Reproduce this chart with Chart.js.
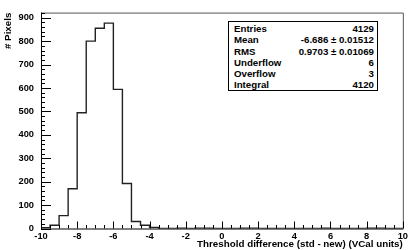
<!DOCTYPE html>
<html>
<head>
<meta charset="utf-8">
<script src="https://cdn.jsdelivr.net/npm/chart.js@4/dist/chart.umd.min.js"></script>
<style>
  html, body { margin: 0; padding: 0; background: #fff; }
  #wrap { position: relative; width: 410px; height: 250px; }
  #stats {
    position: absolute; left: 228px; top: 21px; width: 150px; height: 70px;
    border: 1px solid #000; background: #fff; box-sizing: border-box;
    font-family: "Liberation Sans", Arial, sans-serif; font-weight: bold; font-size: 9.7px;
    padding: 1px 3px 0 5px; color: #000;
  }
  #stats .row { display: flex; justify-content: space-between; height: 11.3px; line-height: 11.3px; white-space: nowrap; }
</style>
</head>
<body>
<div id="wrap">
  <canvas id="c" width="410" height="250"></canvas>
  <div id="stats"></div>
</div>
<script>
// ---- data ----
const binLows = [-10, -9.5, -9, -8.5, -8, -7.5, -7, -6.5, -6, -5.5, -5, -4.5, -4, -3.5, -3, -2.5, -2, -1.5, -1, -0.5,
                 0, 0.5, 1, 1.5, 2, 2.5, 3, 3.5, 4, 4.5, 5, 5.5, 6, 6.5, 7, 7.5, 8, 8.5, 9, 9.5];
const counts  = [3, 14, 55, 170, 494, 800, 855, 877, 594, 192, 30, 14, 5, 0, 0, 1, 0, 1, 1, 0,
                 0, 0, 1, 1, 0, 0, 0, 0, 0, 0, 0, 1, 0, 0, 0, 0, 1, 1, 0, 0];
const xRange = [-10, 10];
const yMax = 922;
const yTickValues = [0, 100, 200, 300, 400, 500, 600, 700, 800, 900];
const statLabels = ["Entries", "Mean", "RMS", "Underflow", "Overflow", "Integral"];
const statValues = ["4129", "-6.686 \u00b1 0.01512", "0.9703 \u00b1 0.01069", "6", "3", "4120"];
const xTitle = "Threshold difference (std - new) (VCal units)";
const yTitle = "# Pixels";

// stats box
const sb = document.getElementById('stats');
statLabels.forEach((l, i) => {
  const r = document.createElement('div'); r.className = 'row';
  const a = document.createElement('span'); a.textContent = l;
  const b = document.createElement('span'); b.textContent = statValues[i];
  r.appendChild(a); r.appendChild(b); sb.appendChild(r);
});

// histogram outline points
const pts = [{x: xRange[0], y: 0}];
binLows.forEach((x, i) => pts.push({x: x, y: counts[i]}));
pts.push({x: xRange[1], y: 0});

const FONT = "'Liberation Sans', Arial, sans-serif";

const frameTicks = {
  id: 'frameTicks',
  afterDatasetsDraw(chart) {
    const {ctx, chartArea: a, scales: {x, y}} = chart;
    ctx.save();
    ctx.lineWidth = 1;
    ctx.strokeStyle = '#555';
    ctx.beginPath();
    ctx.moveTo(a.left, a.top + 0.5); ctx.lineTo(a.right + 0.5, a.top + 0.5); ctx.lineTo(a.right + 0.5, a.bottom);
    ctx.stroke();
    ctx.strokeStyle = '#000';
    ctx.beginPath();
    ctx.moveTo(a.left + 0.5, a.top); ctx.lineTo(a.left + 0.5, a.bottom + 0.5); ctx.lineTo(a.right + 0.5, a.bottom + 0.5);
    ctx.stroke();
    ctx.beginPath();
    for (let v = xRange[0]; v <= xRange[1] + 1e-9; v += 0.5) {
      const px = Math.round(x.getPixelForValue(v)) + 0.5;
      const major = Math.abs(v / 2 - Math.round(v / 2)) < 1e-9;
      const len = major ? 7 : 3.5;
      ctx.moveTo(px, a.bottom); ctx.lineTo(px, a.bottom - len);
    }
    for (let v = 0; v <= yMax; v += 20) {
      const py = Math.round(y.getPixelForValue(v)) + 0.5;
      const major = v % 100 === 0;
      const len = major ? 10 : 4;
      ctx.moveTo(a.left, py); ctx.lineTo(a.left + len, py);
    }
    ctx.stroke();
    ctx.restore();
  }
};

new Chart(document.getElementById('c'), {
  type: 'line',
  data: {
    datasets: [{
      data: pts,
      stepped: true,
      borderColor: '#222',
      borderWidth: 1.4,
      pointRadius: 0,
      fill: false,
      tension: 0
    }]
  },
  options: {
    responsive: false,
    animation: false,
    devicePixelRatio: 1,
    layout: { padding: { left: 0, right: 5, top: 5, bottom: 0 } },
    plugins: { legend: { display: false }, tooltip: { enabled: false } },
    scales: {
      x: {
        type: 'linear', min: xRange[0], max: xRange[1],
        border: { display: false },
        grid: { display: false, drawTicks: false },
        ticks: { stepSize: 2, maxRotation: 0, autoSkip: false, padding: 2, color: '#000',
                 font: { family: FONT, weight: 'bold', size: 9.3 } },
        title: { display: true, text: xTitle, align: 'end', color: '#000',
                 padding: { top: 0, bottom: 0 }, font: { family: FONT, weight: 'bold', size: 9.8 } },
        afterFit(s) { s.height = 21.5; }
      },
      y: {
        type: 'linear', min: 0, max: yMax,
        border: { display: false },
        grid: { display: false, drawTicks: false },
        afterBuildTicks(s) { s.ticks = yTickValues.map(v => ({ value: v })); },
        ticks: { padding: 7, color: '#000',
                 font: { family: FONT, weight: 'bold', size: 9.3 } },
        title: { display: true, text: yTitle, align: 'end', color: '#000',
                 padding: { top: 2, bottom: 0 }, font: { family: FONT, weight: 'bold', size: 9.8 } },
        afterFit(s) { s.width = 41; }
      }
    }
  },
  plugins: [frameTicks]
});
</script>
</body>
</html>
